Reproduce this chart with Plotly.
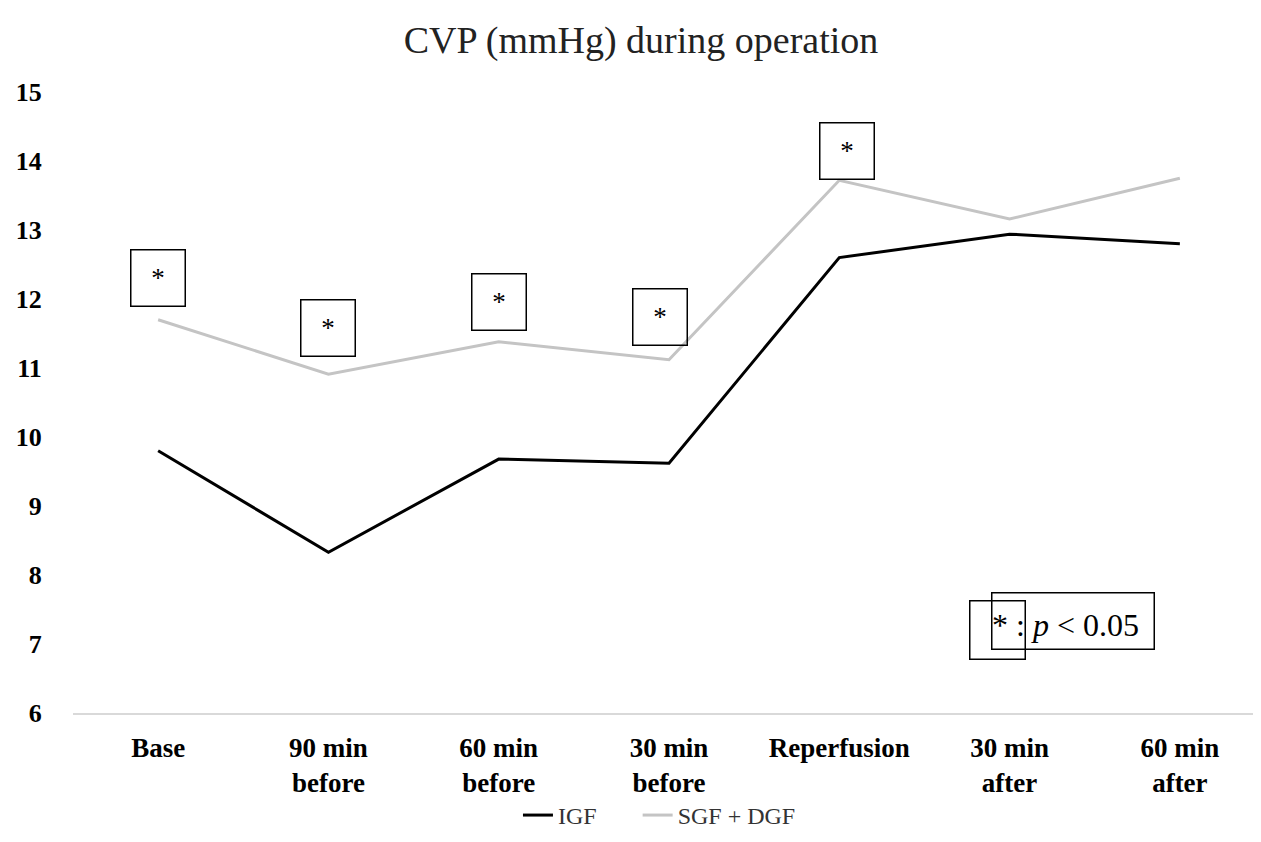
import plotly.graph_objects as go

categories = ["Base", "90 min<br>before", "60 min<br>before", "30 min<br>before",
              "Reperfusion", "30 min<br>after", "60 min<br>after"]
igf = [9.8, 8.33, 9.68, 9.62, 12.6, 12.94, 12.8]
sgf_dgf = [11.7, 10.91, 11.38, 11.12, 13.72, 13.16, 13.75]
tick_vals = [6, 7, 8, 9, 10, 11, 12, 13, 14, 15]

# significance marks: (category index, y position in data units, x shift px)
sig_marks = [(0, 12.31, 0), (1, 11.58, 0), (2, 11.95, 0), (3, 11.74, -9), (4, 14.15, 8)]

FONT = "Liberation Serif, Times New Roman, serif"
GAP = "\u00a0" * 6

fig = go.Figure()
fig.add_trace(go.Scatter(x=categories, y=igf, mode="lines", name="IGF" + GAP,
                         line=dict(color="black", width=3)))
fig.add_trace(go.Scatter(x=categories, y=sgf_dgf, mode="lines", name="SGF + DGF",
                         line=dict(color="#c4c4c4", width=3)))

for idx, yv, xs in sig_marks:
    fig.add_annotation(x=idx, y=yv, xref="x", yref="y", text="*", showarrow=False,
                       xshift=xs, width=53, height=55, bordercolor="black", borderwidth=1.5,
                       borderpad=0, font=dict(family=FONT, size=27, color="black"),
                       bgcolor="rgba(255,255,255,0)")

# legend for significance
fig.add_annotation(x=5.374, y=7.34, xref="x", yref="y", text="", showarrow=False,
                   width=161, height=55, bordercolor="black", borderwidth=1.5, borderpad=0)
fig.add_annotation(x=5, y=7.21, xref="x", yref="y", text="", showarrow=False, xshift=-12,
                   width=54, height=57, bordercolor="black", borderwidth=1.5, borderpad=0)
fig.add_annotation(x=5, y=7.28, xref="x", yref="y", text="* : <i>p</i> < 0.05", showarrow=False,
                   xshift=-20, xanchor="left", font=dict(family=FONT, size=32, color="black"))

fig.update_layout(
    width=1261, height=842,
    paper_bgcolor="white", plot_bgcolor="white",
    margin=dict(l=65, r=4, t=84, b=137),
    title=dict(text="CVP (mmHg) during operation", x=0.502, xanchor="center", y=0.962,
               yanchor="middle", font=dict(family=FONT, size=38, color="#222")),
    font=dict(family=FONT, color="black"),
    showlegend=True,
    legend=dict(orientation="h", x=0.492, xanchor="center", y=-0.165, yanchor="middle",
                font=dict(family=FONT, size=24, color="#333"),
                traceorder="normal", bgcolor="rgba(0,0,0,0)"),
)
fig.update_xaxes(type="category", showline=True, linecolor="#d9d9d9", linewidth=1.5,
                 showgrid=False, ticks="outside", ticklen=10, tickcolor="rgba(0,0,0,0)",
                 tickfont=dict(family=FONT, size=27, color="black", weight="bold"),
                 range=[-0.5, 6.5])
fig.update_yaxes(range=[6, 15], tickvals=tick_vals, showgrid=False, zeroline=False,
                 showline=False, ticks="outside", ticklen=25, tickcolor="rgba(0,0,0,0)",
                 tickfont=dict(family=FONT, size=26, color="black", weight="bold"))

fig.write_html("out.html")
